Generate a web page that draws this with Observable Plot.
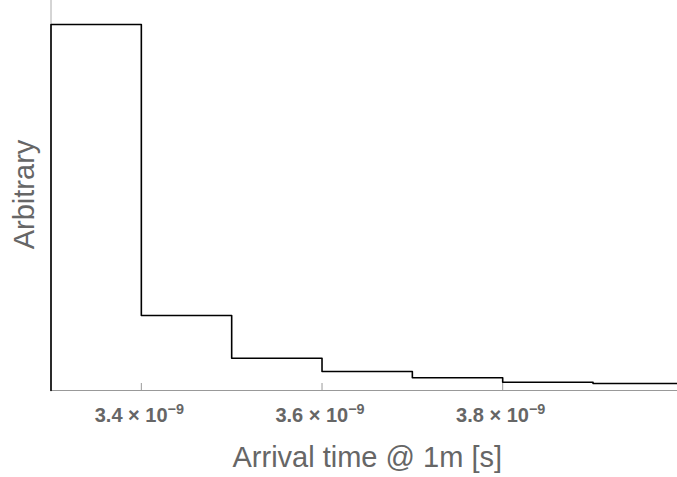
<!DOCTYPE html>
<html>
<head>
<meta charset="utf-8">
<script src="https://cdn.jsdelivr.net/npm/d3@7"></script>
<script src="https://cdn.jsdelivr.net/npm/@observablehq/plot@0.6"></script>
<style>
  html, body { margin: 0; padding: 0; background: #fff; }
  #chart { width: 677px; height: 477px; }
</style>
</head>
<body>
<div id="chart"></div>
<script>
// Bin edges (units of 1e-9 s) and bin heights (arbitrary)
const binEdges = [3.3, 3.4, 3.5, 3.6, 3.7, 3.8, 3.9, 4.0];
const binHeights = [366, 75, 32.3, 19, 12.7, 8.3, 7];
const tickValues = [3.4, 3.6, 3.8];
const tickExponent = "−9";
const xTitle = "Arrival time @ 1m [s]";
const yTitle = "Arbitrary";

// step outline: start at baseline on left edge
const outline = [{x: binEdges[0], y: 0}];
binHeights.forEach((h, i) => outline.push({x: binEdges[i], y: h}));
outline.push({x: binEdges[binEdges.length - 1], y: binHeights[binHeights.length - 1]});

const chart = Plot.plot({
  width: 677,
  height: 477,
  marginLeft: 50.5,
  marginRight: 0,
  marginTop: 0,
  marginBottom: 87,
  style: {fontFamily: "'Liberation Sans', Arial, sans-serif", background: "#fff", overflow: "visible"},
  x: {domain: [3.3, 3.9935], axis: null},
  y: {domain: [0, 390], axis: null},
  marks: [
    Plot.ruleX([binEdges[0]], {stroke: "#aaa", strokeWidth: 1}),
    Plot.ruleY([0], {stroke: "#999", strokeWidth: 1}),
    Plot.ruleX(tickValues, {x: d => d, y1: 0, y2: 7, stroke: "#999"}),
    Plot.text(tickValues, {
      x: d => d, frameAnchor: "bottom", lineAnchor: "bottom", dy: 31, dx: -2,
      text: d => `${d.toFixed(1)} × 10${tickExponent}`,
      fontSize: 20, fontWeight: "bold", fill: "#666", textAnchor: "middle",
      className: "ticklab"
    }),
    Plot.line(outline, {x: "x", y: "y", curve: "step-after", stroke: "#000", strokeWidth: 1.6}),
    Plot.text([xTitle], {frameAnchor: "bottom", lineAnchor: "bottom", dy: 76, dx: 3, fontSize: 29, fill: "#666", text: d => d}),
    Plot.text([yTitle], {frameAnchor: "left", lineAnchor: "bottom", textAnchor: "middle", dx: -17.5, dy: -1, rotate: -90, fontSize: 29, fill: "#666", text: d => d})
  ]
});
document.getElementById("chart").appendChild(chart);

// render exponent as superscript
d3.select(chart).selectAll(".ticklab text").each(function() {
  const t = d3.select(this);
  const s = t.text();
  const idx = s.indexOf("10" + tickExponent);
  if (idx < 0) return;
  t.text(null);
  t.append("tspan").text(s.slice(0, idx + 2));
  t.append("tspan").attr("dy", "-0.5em").attr("font-size", "0.72em").text(tickExponent);
});
</script>
</body>
</html>
